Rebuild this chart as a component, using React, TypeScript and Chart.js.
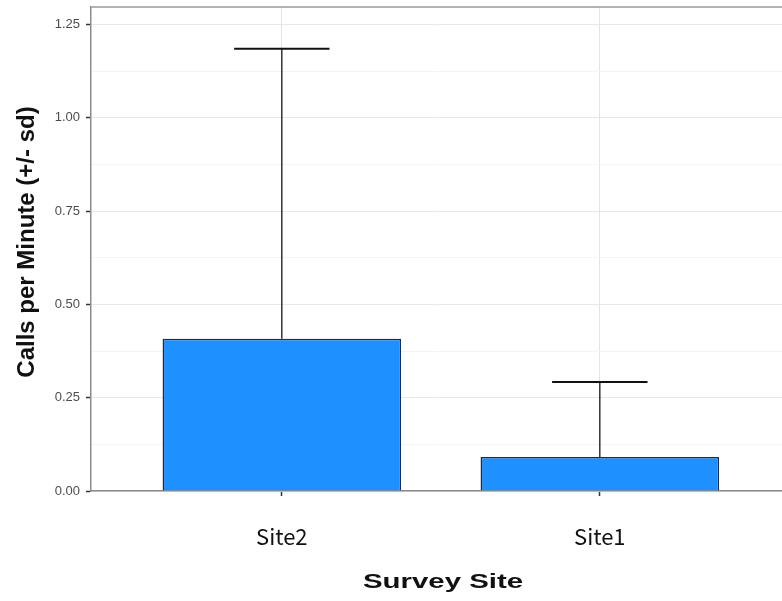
import React, { useEffect, useRef } from 'react';
import { Chart, registerables } from 'chart.js';

Chart.register(...registerables);

const categories = ['Site2', 'Site1'];
const means = [0.408, 0.091];
const sds = [0.777, 0.201];
const yTickValues = [0, 0.125, 0.25, 0.375, 0.5, 0.625, 0.75, 0.875, 1, 1.125, 1.25];
const xTitle = 'Survey Site';
const yTitle = 'Calls per Minute (+/- sd)';

const isMajor = (v: number) => Math.abs(v / 0.25 - Math.round(v / 0.25)) < 1e-6;

const overlay = {
  id: 'overlay',
  afterDatasetsDraw(chart: any) {
    const { ctx, scales, chartArea } = chart;
    const x = scales.x;
    const y = scales.y;
    ctx.save();
    means.forEach((m, i) => {
      const pos = i + 1;
      const px = x.getPixelForValue(pos);
      const yb = y.getPixelForValue(m);
      const yt = y.getPixelForValue(m + sds[i]);
      const half = x.getPixelForValue(pos + 0.15) - px;
      ctx.strokeStyle = '#333333';
      ctx.lineWidth = 1.5;
      ctx.beginPath();
      ctx.moveTo(px, yb);
      ctx.lineTo(px, yt);
      ctx.stroke();
      ctx.strokeStyle = '#111111';
      ctx.lineWidth = 2;
      ctx.beginPath();
      ctx.moveTo(px - half, yt);
      ctx.lineTo(px + half, yt);
      ctx.stroke();
    });
    ctx.strokeStyle = '#9a9a9a';
    ctx.lineWidth = 1.5;
    ctx.beginPath();
    ctx.moveTo(chartArea.left, chartArea.top);
    ctx.lineTo(chartArea.right, chartArea.top);
    ctx.stroke();
    ctx.restore();
  },
  afterDraw(chart: any) {
    const { ctx } = chart;
    ctx.save();
    ctx.fillStyle = '#111111';
    ctx.textAlign = 'center';
    ctx.textBaseline = 'alphabetic';
    ctx.save();
    ctx.translate(34, 242);
    ctx.rotate(-Math.PI / 2);
    ctx.font = 'bold 24px "Liberation Sans", Arial, sans-serif';
    ctx.fillText(yTitle, 0, 0);
    ctx.restore();
    ctx.save();
    ctx.translate(443, 588);
    ctx.scale(1.4, 1);
    ctx.font = 'bold 21px "Liberation Sans", Arial, sans-serif';
    ctx.fillText(xTitle, 0, 0);
    ctx.restore();
    ctx.restore();
  },
};

export default function App() {
  const canvasRef = useRef<HTMLCanvasElement | null>(null);

  useEffect(() => {
    if (!canvasRef.current) return;
    const positions = categories.map((_, i) => i + 1);
    const chart = new Chart(canvasRef.current, {
      type: 'bar',
      data: {
        datasets: [
          {
            data: means.map((m, i) => ({ x: positions[i], y: m })),
            backgroundColor: '#1E90FF',
            borderColor: '#1d2b4a',
            borderWidth: 1.5,
            barPercentage: 0.75,
            categoryPercentage: 1,
          },
        ],
      },
      options: {
        animation: false,
        responsive: true,
        maintainAspectRatio: false,
        layout: { padding: { top: 7, right: 0, bottom: 0, left: 0 } },
        plugins: { legend: { display: false }, tooltip: { enabled: false } },
        scales: {
          x: {
            type: 'linear',
            offset: false,
            min: 0.4,
            max: 0.4 + 691 / 318,
            afterBuildTicks: (s: any) => {
              s.ticks = positions.map((v) => ({ value: v }));
            },
            afterFit: (s: any) => {
              s.height = 110;
              s.paddingLeft = 0;
              s.paddingRight = 0;
            },
            ticks: {
              autoSkip: false,
              maxRotation: 0,
              padding: 27,
              color: '#111111',
              font: { family: '"Noto Sans CJK JP", "Noto Sans", sans-serif', size: 22 },
              callback: (v: any) => categories[Math.round(Number(v)) - 1] ?? '',
            },
            grid: { offset: false, color: '#e3e3e3', lineWidth: 1, tickLength: 5, tickColor: '#333333', tickWidth: 1.5 },
            border: { color: '#8c8c8c', width: 1.5 },
          },
          y: {
            type: 'linear',
            min: 0,
            max: 1.297,
            afterBuildTicks: (s: any) => {
              s.ticks = yTickValues.map((v) => ({ value: v }));
            },
            afterFit: (s: any) => {
              s.width = 91;
              s.paddingTop = 0;
              s.paddingBottom = 0;
            },
            ticks: {
              autoSkip: false,
              padding: 6,
              color: '#4d4d4d',
              font: { family: '"Liberation Sans", Arial, sans-serif', size: 13 },
              callback: (v: any) => (isMajor(Number(v)) ? Number(v).toFixed(2) : ''),
            },
            grid: {
              color: (c: any) => (c.tick && isMajor(c.tick.value) ? '#e8e8e8' : '#f4f4f4'),
              lineWidth: 1,
              tickLength: 5,
              tickWidth: 1.5,
              tickColor: (c: any) => (c.tick && isMajor(c.tick.value) ? '#333333' : 'rgba(0,0,0,0)'),
            },
            border: { color: '#8c8c8c', width: 1.5 },
          },
        },
      },
      plugins: [overlay],
    } as any);
    return () => chart.destroy();
  }, []);

  return (
    <div style={{ position: 'fixed', left: 0, top: 0, width: 782, height: 601, background: '#ffffff' }}>
      <canvas ref={canvasRef} />
    </div>
  );
}
